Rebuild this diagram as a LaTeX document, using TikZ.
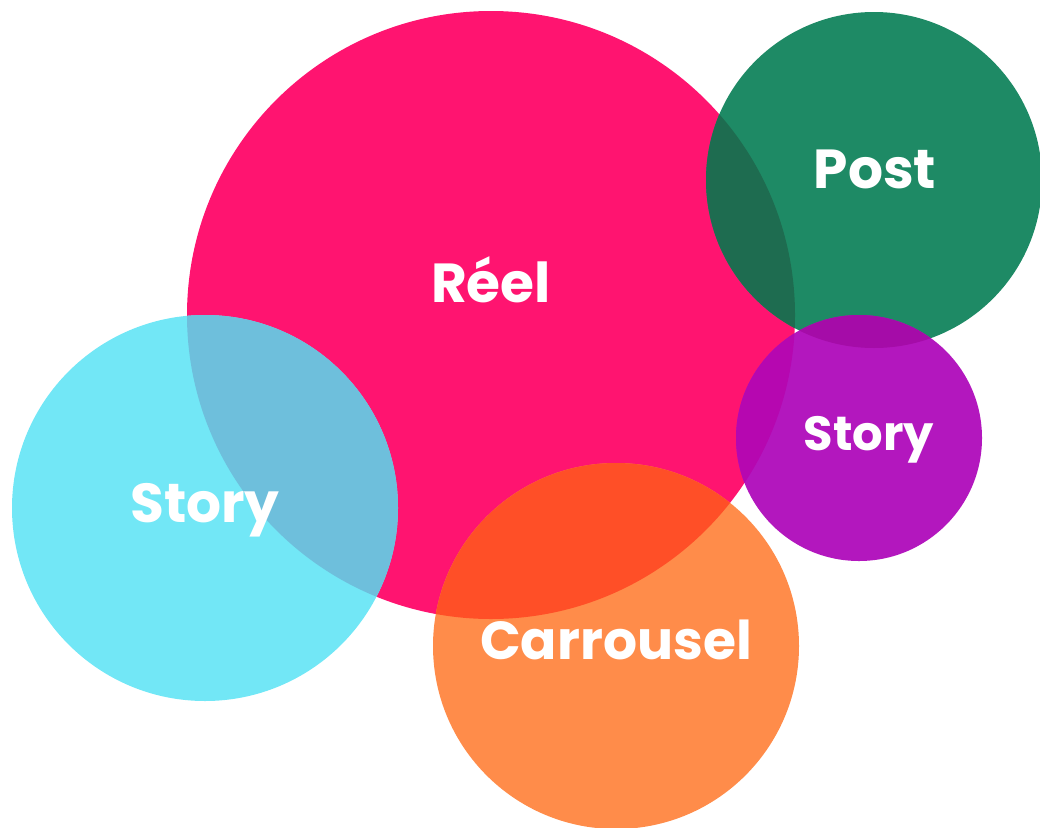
\documentclass[tikz,border=0pt]{standalone}
\usepackage{fontspec}
\setmainfont{Poppins}
\definecolor{reelc}{HTML}{FF1470}
\definecolor{postc}{HTML}{1E8A65}
\definecolor{storyrc}{HTML}{B317BE}
\definecolor{storylc}{HTML}{72E7F6}
\definecolor{carrc}{HTML}{FF8C4A}
\definecolor{reelstoryl}{HTML}{6EBFDC}
\definecolor{reelpost}{HTML}{1E6C50}
\definecolor{reelcarr}{HTML}{FF4F27}
\definecolor{reelstoryr}{HTML}{B607B0}
\definecolor{poststoryr}{HTML}{A50CA8}
\tikzset{
  word/.style={text=white, font=\bfseries\fontsize{#1}{#1}\selectfont, inner sep=0pt},
  word/.default=55pt
}
\begin{document}
\begin{tikzpicture}[x=1pt,y=-1pt]
    \useasboundingbox (0,0) rectangle (1040,827);

    % centres of the bubbles
    \coordinate (reel) at (491,315);
    \coordinate (post) at (874,180);
    \coordinate (storyr) at (859,438);
    \coordinate (storyl) at (205,508);
    \coordinate (carr) at (616,646);

    \fill[reelc] (reel) circle (304pt);
    \fill[postc] (post) circle (168pt);
    \fill[storyrc] (storyr) circle (123pt);
    \fill[storylc] (storyl) circle (193pt);
    \fill[carrc] (carr) circle (183pt);

    % where the bubbles overlap
    \begin{scope}
        \clip (reel) circle (304pt);
        \fill[reelstoryl] (storyl) circle (193pt);
        \fill[reelpost] (post) circle (168pt);
        \fill[reelcarr] (carr) circle (183pt);
        \fill[reelstoryr] (storyr) circle (123pt);
    \end{scope}
    \begin{scope}
        \clip (post) circle (168pt);
        \fill[poststoryr] (storyr) circle (123pt);
    \end{scope}

    \node[word] (reeltxt) at (491,280) {Réel};
    \node[word] (posttxt) at (875,169) {Post};
    \node[word=48pt] (storyrtxt) at (869,440) {Story};
    \node[word] (storyltxt) at (205,510) {Story};
    \node[word=53.5pt] (carrtxt) at (616,640) {Carrousel};
\end{tikzpicture}
\end{document}
